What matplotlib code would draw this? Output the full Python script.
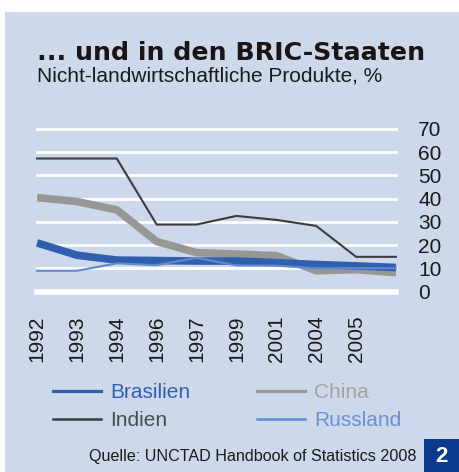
import matplotlib
matplotlib.use('Agg')
import matplotlib.pyplot as plt
from matplotlib.lines import Line2D
from matplotlib.patches import Rectangle

# data (share in %)
years = ['1992', '1993', '1994', '1996', '1997', '1999', '2001', '2004', '2005', '']
brasilien = [21.0, 15.7, 13.6, 13.4, 13.2, 13.2, 12.5, 11.7, 11.1, 10.4]
china = [40.5, 38.8, 35.2, 21.6, 16.8, 16.2, 15.5, 9.0, 9.5, 8.2]
indien = [57.3, 57.3, 57.3, 28.9, 28.9, 32.6, 30.9, 28.3, 15.0, 15.0]
russland = [9.0, 9.0, 12.2, 11.4, 14.6, 11.3, 11.2, 10.1, 10.1, 10.1]
yticks = [0, 10, 20, 30, 40, 50, 60, 70]

bg = '#cdd8ea'
W, H = 459, 472

fig = plt.figure(figsize=(W / 100, H / 100), dpi=100)
fig.patch.set_facecolor('white')
fig.add_artist(Rectangle((5 / W, 0), 1 - 5 / W, 1 - 12 / H, transform=fig.transFigure,
                         facecolor=bg, edgecolor='none', zorder=-10))

ax = fig.add_axes([37 / W, 1 - 291.7 / H, (396 - 37) / W, (291.7 - 129) / H])
ax.set_facecolor('none')
for s in ax.spines.values():
    s.set_visible(False)

x = list(range(len(years)))
ax.set_xlim(0, len(years) - 1)
ax.set_ylim(0, 70)

# white gridlines
for v in yticks:
    ax.axhline(v, color='white', lw=4 if v == 0 else 2, zorder=1, clip_on=False)

ax.plot(x, china, color='#989796', lw=5.5, solid_capstyle='butt', zorder=3, clip_on=False)
ax.plot(x, brasilien, color='#2f5fae', lw=5.5, solid_capstyle='butt', zorder=4, clip_on=False)
ax.plot(x, russland, color='#5f8ad0', lw=1.5, zorder=5, clip_on=False)
ax.plot(x, indien, color='#3d3b3b', lw=1.5, zorder=6, clip_on=False)

ax.yaxis.tick_right()
ax.set_yticks(yticks)
ax.set_yticklabels([str(v) for v in yticks], fontsize=15, color='#1a1a1a',
                   family='Liberation Sans')
ax.tick_params(axis='y', length=0, pad=16)
ax.set_xticks(x)
ax.set_xticklabels(years, rotation=90, fontsize=15, color='#1a1a1a',
                   family='Liberation Sans', va='top')
ax.tick_params(axis='x', length=0, pad=17)

# titles
fig.text(37 / W, 1 - 60 / H, '... und in den BRIC-Staaten', fontsize=18.2, fontweight='bold',
         family='DejaVu Sans', color='#1a1414', va='baseline')
fig.text(37 / W, 1 - 81 / H, 'Nicht-landwirtschaftliche Produkte, %', fontsize=15,
         family='Liberation Sans', color='#1a1a1a', va='baseline')

# legend
handles = [
    Line2D([], [], color='#2f5fae', lw=2.3),
    Line2D([], [], color='#3d3b3b', lw=1.8),
    Line2D([], [], color='#999999', lw=2.3),
    Line2D([], [], color='#5f8ad0', lw=1.8),
]
labels = ['Brasilien', 'Indien', 'China', 'Russland']
leg = fig.legend(handles, labels, ncol=2, loc='upper left',
                 bbox_to_anchor=(53 / W, 1 - 383 / H), frameon=False,
                 prop={'family': 'Liberation Sans', 'size': 15},
                 handlelength=2.3, handletextpad=0.45, columnspacing=3.2,
                 labelspacing=0.45, borderpad=0, borderaxespad=0)
for t, c in zip(leg.get_texts(), ['#3060b0', '#4a4a4a', '#a3a3a3', '#6a90d0']):
    t.set_color(c)

# source and page marker
fig.text(89 / W, 1 - 457 / H, 'Quelle: UNCTAD Handbook of Statistics 2008', fontsize=11.6,
         family='Liberation Sans', color='#1a1a1a', va='center')
fig.add_artist(Rectangle((424 / W, 0), 1 - 424 / W, 33 / H, transform=fig.transFigure,
                         facecolor='#0b3a8e', edgecolor='none'))
fig.text(441.5 / W, 1 - 456 / H, '2', fontsize=16, fontweight='bold', color='white',
         family='Liberation Sans', ha='center', va='center')

fig.savefig('out.png', dpi=100, facecolor=fig.get_facecolor())
